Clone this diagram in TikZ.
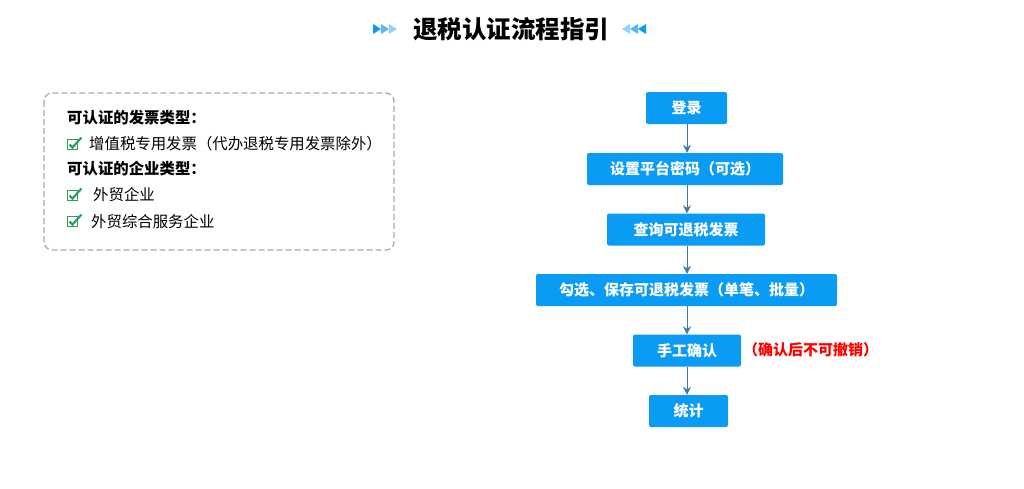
\documentclass[tikz,border=0pt]{standalone}
\usepackage{fontspec}
\usetikzlibrary{arrows.meta}
\newfontfamily\cjk{Noto Sans CJK SC}
\definecolor{stepblue}{HTML}{0A9BF5}
\definecolor{linkblue}{HTML}{3D7AAE}
\definecolor{tickgreen}{HTML}{2E9E5A}
\definecolor{boxgray}{HTML}{AAAAAA}
\tikzset{
  stepbox/.style={fill=stepblue, rounded corners=2pt, text=white, font=\cjk\fontsize{15}{17}\selectfont\bfseries, minimum height=32pt, inner sep=0pt},
  link/.style={draw=linkblue, line width=0.9pt, -{Stealth[length=8pt,width=8pt]}},
  listtext/.style={anchor=west, inner sep=0pt, font=\cjk\fontsize{15.4}{17}\selectfont},
  listhead/.style={listtext, font=\cjk\fontsize{15.4}{17}\selectfont\bfseries},
  tickbox/.style={draw=tickgreen, line width=1.1pt, minimum size=10pt, inner sep=0pt},
  tick/.style={draw=tickgreen, line width=2.2pt}
}
\begin{document}
\begin{tikzpicture}[x=1pt,y=-1pt]
\useasboundingbox (0,0) rectangle (1024,488);
% title
\node[font=\cjk\fontsize{24.5}{26}\selectfont\bfseries] (title) at (511,29) {退税认证流程指引};
\fill[stepblue] (373,24) -- (381,29) -- (373,34) -- cycle;
\fill[stepblue!70] (381,24) -- (389,29) -- (381,34) -- cycle;
\fill[stepblue!45] (389,24) -- (397,29) -- (389,34) -- cycle;
\fill[stepblue!45] (630,24) -- (622,29) -- (630,34) -- cycle;
\fill[stepblue!70] (638,24) -- (630,29) -- (638,34) -- cycle;
\fill[stepblue] (646,24) -- (638,29) -- (646,34) -- cycle;
% left box
\draw[boxgray, line width=1.3pt, dash pattern=on 6pt off 3pt, rounded corners=8pt] (44,93) rectangle (394,250);
\node[listhead] (h1) at (67,118) {可认证的发票类型：};
\node[tickbox] (c1) at (72.5,144.5) {};
\draw[tick] ([xshift=-3pt,yshift=0pt]c1.center) -- ([xshift=0pt,yshift=-3pt]c1.center) -- ([xshift=9pt,yshift=7pt]c1.center);
\node[listtext] (t1) at (89,144) {增值税专用发票（代办退税专用发票除外）};
\node[listhead] (h2) at (67,169) {可认证的企业类型：};
\node[tickbox] (c2) at (72.5,195.5) {};
\draw[tick] ([xshift=-3pt,yshift=0pt]c2.center) -- ([xshift=0pt,yshift=-3pt]c2.center) -- ([xshift=9pt,yshift=7pt]c2.center);
\node[listtext] (t2) at (93,195) {外贸企业};
\node[tickbox] (c3) at (72.5,221.5) {};
\draw[tick] ([xshift=-3pt,yshift=0pt]c3.center) -- ([xshift=0pt,yshift=-3pt]c3.center) -- ([xshift=9pt,yshift=7pt]c3.center);
\node[listtext] (t3) at (91,222) {外贸综合服务企业};
% flow
\node[stepbox, minimum width=81pt] (s1) at (686.5,108) {登录};
\node[stepbox, minimum width=196pt] (s2) at (685,169) {设置平台密码（可选）};
\node[stepbox, minimum width=158pt] (s3) at (686,229.5) {查询可退税发票};
\node[stepbox, minimum width=301pt] (s4) at (686.5,290) {勾选、保存可退税发票（单笔、批量）};
\node[stepbox, minimum width=108pt] (s5) at (687,350.5) {手工确认};
\node[stepbox, minimum width=79pt] (s6) at (688.5,411) {统计};
\node[anchor=west, inner sep=0pt, text=red, font=\cjk\fontsize{15}{17}\selectfont\bfseries] (note) at (743,350) {（确认后不可撤销）};
\draw[link] (s1.south -| 687,0) -- (s2.north -| 687,0);
\draw[link] (s2.south -| 687,0) -- (s3.north -| 687,0);
\draw[link] (s3.south -| 687,0) -- (s4.north -| 687,0);
\draw[link] (s4.south -| 687,0) -- (s5.north -| 687,0);
\draw[link] (s5.south -| 687,0) -- (s6.north -| 687,0);
\end{tikzpicture}
\end{document}
